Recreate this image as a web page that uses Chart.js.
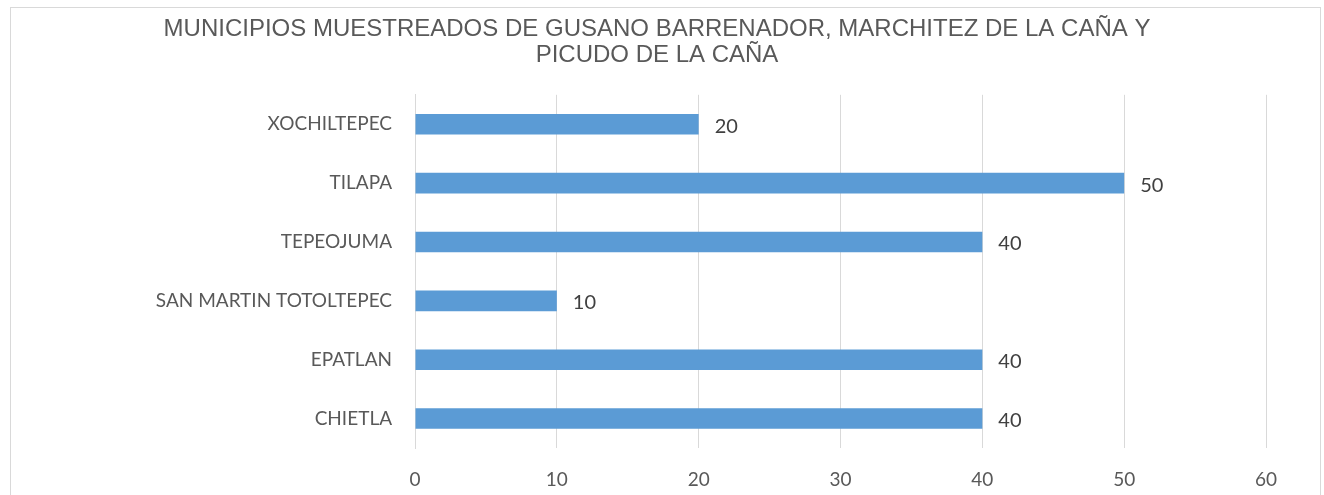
<!DOCTYPE html>
<html>
<head>
<meta charset="utf-8">
<script src="https://cdn.jsdelivr.net/npm/chart.js@4.4.1/dist/chart.umd.min.js"></script>
<style>
  html, body { margin: 0; padding: 0; background: #ffffff; }
  #wrap { position: absolute; left: 0; top: 0; width: 1324px; height: 495px; }
  #frame { position: absolute; left: 10px; top: 7px; width: 1311px; height: 500px; border: 1px solid #d9d9d9; box-sizing: border-box; }
  canvas { position: absolute; left: 0; top: 0; }
</style>
</head>
<body>
<div id="wrap">
  <div id="frame"></div>
  <canvas id="c" width="1324" height="495"></canvas>
</div>
<script>
const titleLines = ["MUNICIPIOS MUESTREADOS DE GUSANO BARRENADOR, MARCHITEZ DE LA CAÑA Y", "PICUDO DE LA CAÑA"];
const categories = ["XOCHILTEPEC", "TILAPA", "TEPEOJUMA", "SAN MARTIN TOTOLTEPEC", "EPATLAN", "CHIETLA"];
const values = [20, 50, 40, 10, 40, 40];
const xMin = 0, xMax = 60, xStep = 10;

const bodyFont = "Lato, 'Open Sans', sans-serif";

const valueLabels = {
  id: 'valueLabels',
  afterDatasetsDraw(chart) {
    const ctx = chart.ctx;
    const meta = chart.getDatasetMeta(0);
    ctx.save();
    ctx.font = "20px " + bodyFont;
    ctx.fillStyle = '#404040';
    ctx.textAlign = 'left';
    ctx.textBaseline = 'middle';
    meta.data.forEach((bar, i) => {
      ctx.fillText(String(values[i]), bar.x + 16, bar.y + 2);
    });
    ctx.restore();
  }
};

new Chart(document.getElementById('c'), {
  type: 'bar',
  data: {
    labels: categories,
    datasets: [{
      data: values,
      backgroundColor: '#5B9BD5',
      borderWidth: 0,
      barPercentage: 0.35,
      categoryPercentage: 1.0
    }]
  },
  options: {
    indexAxis: 'y',
    responsive: false,
    animation: false,
    layout: { padding: { left: 48, right: 58, top: 16, bottom: 0 } },
    plugins: {
      legend: { display: false },
      tooltip: { enabled: false },
      title: {
        display: true,
        text: titleLines,
        color: '#595959',
        font: { family: "'Liberation Sans', Arial, sans-serif", size: 24, weight: 'normal', lineHeight: 1.1 },
        padding: { top: 0, bottom: 26 }
      }
    },
    scales: {
      x: {
        min: xMin, max: xMax,
        ticks: { stepSize: xStep, color: '#595959', font: { family: bodyFont, size: 19 }, padding: 20 },
        grid: { color: '#d9d9d9', lineWidth: 1, drawTicks: false },
        border: { display: false },
        afterFit(scale) { scale.height = 47; }
      },
      y: {
        ticks: { color: '#595959', font: { family: bodyFont, size: 19 }, padding: 23 },
        grid: { display: false, drawTicks: false },
        border: { display: true, color: '#d9d9d9', width: 1 },
        afterFit(scale) { scale.width = 367; }
      }
    }
  },
  plugins: [valueLabels]
});
</script>
</body>
</html>
